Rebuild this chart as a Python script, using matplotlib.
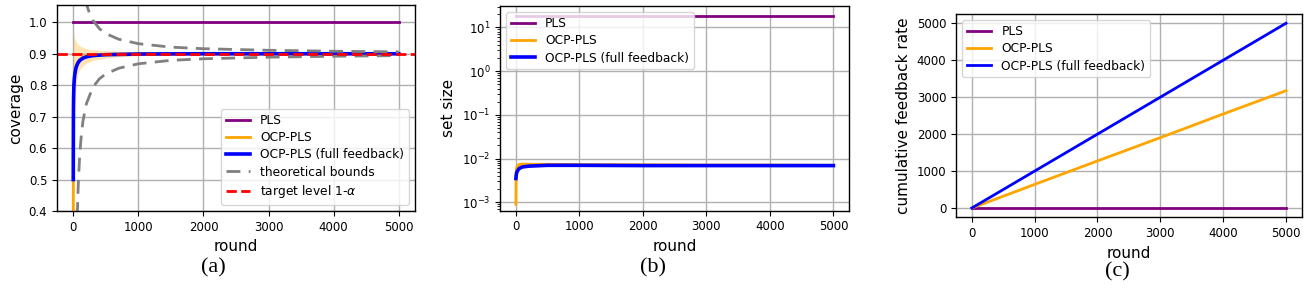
import matplotlib
matplotlib.use("Agg")
import matplotlib.pyplot as plt
import numpy as np

# ---------------- data ----------------
# panel (a): coverage
pls_cov_rounds = [0, 5000]
pls_cov = [1.0, 1.0]

ocp_cov_rounds = [0, 1, 2, 3, 5, 8, 10, 15, 20, 30, 40, 50, 70, 100, 150, 200, 300, 500, 700, 1000, 1500, 2000, 3000, 4000, 5000]
ocp_cov = [0.30, 0.45, 0.60, 0.68, 0.74, 0.78, 0.80, 0.82, 0.835, 0.85, 0.858, 0.865, 0.874, 0.882, 0.889, 0.892, 0.895, 0.898, 0.899, 0.900, 0.900, 0.900, 0.900, 0.900, 0.900]
ocp_cov_hi = [0.50, 0.70, 0.85, 0.92, 0.96, 0.97, 0.965, 0.955, 0.95, 0.945, 0.94, 0.937, 0.93, 0.925, 0.92, 0.916, 0.913, 0.91, 0.908, 0.906, 0.904, 0.903, 0.902, 0.9015, 0.901]
ocp_cov_lo = [0.10, 0.20, 0.35, 0.44, 0.52, 0.59, 0.63, 0.68, 0.72, 0.76, 0.79, 0.81, 0.835, 0.85, 0.862, 0.870, 0.878, 0.886, 0.89, 0.894, 0.896, 0.897, 0.898, 0.8985, 0.899]

full_cov_rounds = [0, 1, 2, 3, 5, 8, 10, 15, 20, 30, 40, 50, 70, 100, 150, 200, 300, 500, 1000, 2000, 3000, 4000, 5000]
full_cov = [0.50, 0.60, 0.67, 0.72, 0.76, 0.785, 0.80, 0.815, 0.828, 0.843, 0.853, 0.860, 0.870, 0.879, 0.886, 0.890, 0.894, 0.897, 0.899, 0.900, 0.900, 0.900, 0.900]

bound_up_rounds = [180, 200, 250, 300, 400, 500, 700, 1000, 1500, 2000, 3000, 4000, 5000]
bound_up = [1.078, 1.060, 1.028, 1.007, 0.980, 0.964, 0.946, 0.932, 0.921, 0.916, 0.911, 0.908, 0.906]
bound_lo_rounds = [62, 70, 80, 100, 125, 150, 200, 300, 400, 500, 700, 1000, 1500, 2000, 3000, 4000, 5000]
bound_lo = [0.384, 0.443, 0.500, 0.580, 0.644, 0.687, 0.740, 0.793, 0.820, 0.836, 0.854, 0.868, 0.879, 0.884, 0.889, 0.892, 0.894]

target_level = 0.9

# panel (b): set size (log scale)
pls_size_rounds = [0, 5000]
pls_size = [18.5, 18.5]
ocp_size_rounds = [0, 3, 5, 10, 20, 50, 100, 200, 500, 1000, 2000, 3000, 4000, 5000]
ocp_size = [0.0009, 0.0035, 0.0045, 0.0058, 0.0066, 0.0073, 0.0075, 0.0074, 0.0074, 0.0073, 0.0072, 0.0071, 0.0071, 0.0070]
ocp_size_hi = [0.0020, 0.0055, 0.0065, 0.0075, 0.0080, 0.0082, 0.0081, 0.0079, 0.0077, 0.0075, 0.0074, 0.0072, 0.0072, 0.0071]
ocp_size_lo = [0.0004, 0.0020, 0.0030, 0.0044, 0.0054, 0.0065, 0.0069, 0.0070, 0.0071, 0.0071, 0.0070, 0.0070, 0.0069, 0.0069]
full_size_rounds = [0, 5, 10, 20, 50, 100, 200, 500, 1000, 2000, 3000, 4000, 5000]
full_size = [0.0035, 0.0042, 0.0046, 0.0051, 0.0059, 0.0064, 0.0067, 0.0070, 0.0070, 0.0069, 0.0069, 0.0069, 0.0069]

# panel (c): cumulative feedback
fb_rounds = [0, 1000, 2000, 3000, 4000, 5000]
pls_fb = [0, 0, 0, 0, 0, 0]
ocp_fb = [0, 640, 1275, 1905, 2545, 3175]
full_fb = [0, 1000, 2000, 3000, 4000, 5000]

xticks = [0, 1000, 2000, 3000, 4000, 5000]
cov_yticks = [0.4, 0.5, 0.6, 0.7, 0.8, 0.9, 1.0]
fb_yticks = [0, 1000, 2000, 3000, 4000, 5000]
labels = ["PLS", "OCP-PLS", "OCP-PLS (full feedback)"]
captions = ["(a)", "(b)", "(c)"]

# ---------------- styling ----------------
PURPLE = "#800080"
ORANGE = "#FFA500"
BLUE = "#0000FF"
TICK_FS = 8.5
LABEL_FS = 11
LEG_FS = 8.8
LW = 2.0

plt.rcParams['font.family'] = ['DejaVu Sans']
fig = plt.figure(figsize=(13.1, 2.92), dpi=100)

axa = fig.add_axes([0.0435, 0.2774, 0.2733, 0.7055])
axb = fig.add_axes([0.3817, 0.2784, 0.2666, 0.7010])
axc = fig.add_axes([0.7298, 0.2558, 0.2639, 0.6962])

# ---- (a)
axa.plot(pls_cov_rounds, pls_cov, color=PURPLE, lw=LW, label=labels[0])
axa.fill_between(ocp_cov_rounds, ocp_cov_lo, ocp_cov_hi, color=ORANGE, alpha=0.3, lw=0)
axa.plot(ocp_cov_rounds, ocp_cov, color=ORANGE, lw=LW, label=labels[1])
axa.plot(full_cov_rounds, full_cov, color=BLUE, lw=2.6, label=labels[2])
axa.plot(bound_up_rounds, bound_up, color="gray", ls=(0, (5, 3)), lw=LW, label="theoretical bounds")
axa.plot(bound_lo_rounds, bound_lo, color="gray", ls=(0, (5, 3)), lw=LW)
axa.axhline(target_level, color="red", ls="--", lw=LW, label=r"target level 1-$\alpha$")
axa.set_ylim(0.4, 1.055)
axa.set_xlim(-250, 5250)
axa.set_yticks(cov_yticks)
axa.set_ylabel("coverage", fontsize=LABEL_FS)
axa.legend(loc="lower right", fontsize=LEG_FS, labelspacing=0.35, handlelength=2.0)

# ---- (b)
axb.plot(pls_size_rounds, pls_size, color=PURPLE, lw=LW, label=labels[0])
axb.fill_between(ocp_size_rounds, ocp_size_lo, ocp_size_hi, color=ORANGE, alpha=0.3, lw=0)
axb.plot(ocp_size_rounds, ocp_size, color=ORANGE, lw=LW, label=labels[1])
axb.plot(full_size_rounds, full_size, color=BLUE, lw=2.6, label=labels[2])
axb.set_yscale("log")
axb.set_ylim(6.4e-4, 31)
axb.set_xlim(-250, 5250)
axb.set_ylabel("set size", fontsize=LABEL_FS)
axb.legend(loc="upper left", fontsize=LEG_FS, labelspacing=0.35)

# ---- (c)
axc.plot(fb_rounds, pls_fb, color=PURPLE, lw=LW, label=labels[0])
axc.plot(fb_rounds, ocp_fb, color=ORANGE, lw=LW, label=labels[1])
axc.plot(fb_rounds, full_fb, color=BLUE, lw=LW, label=labels[2])
axc.set_xlim(-250, 5250)
axc.set_ylim(-250, 5250)
axc.set_yticks(fb_yticks)
axc.set_ylabel("cumulative feedback rate", fontsize=LABEL_FS)
axc.legend(loc="upper left", fontsize=LEG_FS, labelspacing=0.35)

for ax in (axa, axb, axc):
    ax.set_xticks(xticks)
    ax.set_xlabel("round", fontsize=LABEL_FS)
    ax.grid(True, color="#b0b0b0", lw=1)
    ax.set_axisbelow(True)
    ax.tick_params(labelsize=TICK_FS)
    for s in ax.spines.values():
        s.set_linewidth(1.0)

cap_x = [213 / 1310, 653 / 1310, 1117 / 1310]
cap_y = [1 - 268 / 292, 1 - 268 / 292, 1 - 272 / 292]
for t, x, y in zip(captions, cap_x, cap_y):
    fig.text(x, y, t, ha="center", va="center", fontsize=16, family=["Liberation Serif"])

fig.savefig("out.png", dpi=100)
